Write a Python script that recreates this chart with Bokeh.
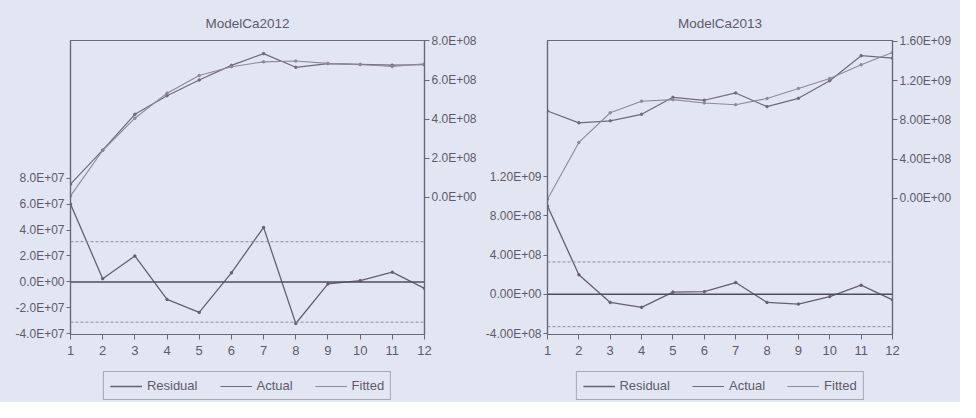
from bokeh.plotting import figure
from bokeh.models import (Range1d, LinearAxis, FixedTicker, CustomJSTickFormatter,
                          Span, Legend, LegendItem)
from bokeh.layouts import row, column
from bokeh.embed import file_html
from bokeh.resources import INLINE

# ---------------- data ----------------
periods = [1, 2, 3, 4, 5, 6, 7, 8, 9, 10, 11, 12]

title_2012 = "ModelCa2012"
resid_2012 = [6.0e7, 0.25e7, 2.0e7, -1.35e7, -2.35e7, 0.7e7, 4.2e7, -3.2e7, -0.15e7, 0.1e7, 0.75e7, -0.5e7]
actual_2012 = [6.8e7, 2.42e8, 4.25e8, 5.20e8, 6.00e8, 6.75e8, 7.35e8, 6.65e8, 6.84e8, 6.80e8, 6.76e8, 6.78e8]
fitted_2012 = [0.8e7, 2.40e8, 4.05e8, 5.33e8, 6.23e8, 6.68e8, 6.93e8, 6.97e8, 6.85e8, 6.79e8, 6.69e8, 6.83e8]
se_2012 = 3.1e7
resid_ticks_2012 = [-4e7, -2e7, 0, 2e7, 4e7, 6e7, 8e7]
af_ticks_2012 = [0, 2e8, 4e8, 6e8, 8e8]

title_2013 = "ModelCa2013"
resid_2013 = [9.0e8, 2.0e8, -0.83e8, -1.33e8, 0.23e8, 0.27e8, 1.2e8, -0.83e8, -1.0e8, -0.23e8, 0.93e8, -0.57e8]
actual_2013 = [8.9e8, 7.7e8, 7.9e8, 8.57e8, 1.03e9, 1.0e9, 1.075e9, 9.35e8, 1.02e9, 1.2e9, 1.455e9, 1.43e9]
fitted_2013 = [-1e7, 5.7e8, 8.73e8, 9.9e8, 1.007e9, 9.73e8, 9.55e8, 1.018e9, 1.12e9, 1.223e9, 1.362e9, 1.487e9]
se_2013 = 3.3e8
resid_ticks_2013 = [-4e8, 0, 4e8, 8e8, 1.2e9]
af_ticks_2013 = [0, 4e8, 8e8, 1.2e9, 1.6e9]

legend_labels = ["Residual", "Actual", "Fitted"]

# ---------------- style ----------------
BG = "#e2e6f2"
TXT = "#5d5b6b"
AX = "#6b6878"
FONT = "Liberation Sans"
C_RES, C_ACT, C_FIT = "#655f73", "#6f6a7e", "#8d889c"
W_RES, W_ACT, W_FIT = 1.3, 1.2, 1.1

FMT = """
let s = tick.toExponential(d);
let parts = s.split('e');
let sign = parts[1][0];
let ex = parts[1].slice(1);
if (ex.length < 2) { ex = '0' + ex; }
return parts[0] + 'E' + sign + ex;
"""


def style_axis(ax, ticks, digits, tick_out=4):
    ax.ticker = FixedTicker(ticks=ticks)
    ax.formatter = CustomJSTickFormatter(code=FMT, args=dict(d=digits))
    ax.major_label_text_font = FONT
    ax.major_label_text_font_size = "12px"
    ax.major_label_text_color = TXT
    ax.axis_line_color = AX
    ax.axis_line_width = 1.2
    ax.major_tick_line_color = AX
    ax.major_tick_in = 0
    ax.major_tick_out = tick_out
    ax.minor_tick_line_color = None
    ax.major_label_standoff = 2


def panel(title, resid, actual, fitted, se, rticks, aticks, digits,
          rrange, arange, width, bl, br):
    p = figure(width=width, height=362, output_backend="svg", toolbar_location=None,
               x_range=Range1d(1, 12), y_range=Range1d(*rrange),
               min_border_left=bl, min_border_right=br, min_border_top=40,
               min_border_bottom=28, background_fill_color=BG, border_fill_color=BG,
               outline_line_color=AX, outline_line_width=1.2, title=title)
    p.extra_y_ranges = {"af": Range1d(*arange)}
    p.grid.visible = False

    p.title.align = "center"
    p.title.text_font = FONT
    p.title.text_font_size = "13.5px"
    p.title.text_font_style = "normal"
    p.title.text_color = TXT
    p.title.standoff = 20

    xa = p.xaxis[0]
    xa.ticker = FixedTicker(ticks=periods)
    xa.major_label_text_font = FONT
    xa.major_label_text_font_size = "13px"
    xa.major_label_text_color = TXT
    xa.axis_line_color = AX
    xa.axis_line_width = 1.2
    xa.major_tick_line_color = AX
    xa.major_tick_in = 0
    xa.major_tick_out = 5
    xa.minor_tick_line_color = None
    xa.major_label_standoff = 6

    style_axis(p.yaxis[0], rticks, digits)
    ra = LinearAxis(y_range_name="af")
    style_axis(ra, aticks, digits, tick_out=5)
    p.add_layout(ra, "right")

    p.add_layout(Span(location=0, dimension="width", line_color="#4f4c5c", line_width=1.5))
    for s in (se, -se):
        p.add_layout(Span(location=s, dimension="width", line_color="#8e8a9c",
                          line_width=1, line_dash="3 2"))

    p.line(periods, resid, line_color=C_RES, line_width=W_RES)
    p.scatter(periods, resid, marker="circle", size=2.5, color=C_RES)
    p.line(periods, actual, line_color=C_ACT, line_width=W_ACT, y_range_name="af")
    p.scatter(periods, actual, marker="circle", size=2.5, color=C_ACT, y_range_name="af")
    p.line(periods, fitted, line_color=C_FIT, line_width=W_FIT, y_range_name="af")
    p.scatter(periods, fitted, marker="circle", size=2.5, color=C_FIT, y_range_name="af")
    return p


def legend_fig(width, bl, br, series):
    # the series are attached to an x range far away, only their legend samples show
    lf = figure(width=width, height=40, output_backend="svg", toolbar_location=None,
                x_range=Range1d(-20, -19), y_range=Range1d(0, 1),
                min_border_left=bl, min_border_right=br, min_border_top=0,
                min_border_bottom=0, background_fill_color=BG, border_fill_color=BG,
                outline_line_color=None)
    lf.axis.visible = False
    lf.grid.visible = False
    items = []
    for lab, col, lw, ser in zip(legend_labels, (C_RES, C_ACT, C_FIT),
                                 (W_RES, W_ACT, W_FIT), series):
        rl = lf.line(periods, ser, line_color=col, line_width=lw)
        items.append(LegendItem(label=lab, renderers=[rl]))
    lg = Legend(items=items, orientation="horizontal", location="bottom_center",
                background_fill_color=BG, background_fill_alpha=1.0,
                border_line_color=AX, border_line_width=1.2,
                label_text_font=FONT, label_text_font_size="13px", label_text_color=TXT,
                glyph_width=32, glyph_height=14, label_height=14, label_standoff=5,
                spacing=22, padding=6, margin=2)
    lf.add_layout(lg)
    return lf


p1 = panel(title_2012, resid_2012, actual_2012, fitted_2012, se_2012,
           resid_ticks_2012, af_ticks_2012, 1, (-4.05e7, 1.86e8), (-7.0e8, 8.02e8),
           482, 70, 58)
p2 = panel(title_2013, resid_2013, actual_2013, fitted_2013, se_2013,
           resid_ticks_2013, af_ticks_2013, 2, (-4.1e8, 2.59e9), (-1.39e9, 1.61e9),
           478, 62, 68)
l1 = legend_fig(482, 70, 58, (resid_2012, actual_2012, fitted_2012))
l2 = legend_fig(478, 62, 68, (resid_2013, actual_2013, fitted_2013))

layout = row(column(p1, l1), column(p2, l2))
layout.styles = {"background-color": BG}
open("out.html", "w").write(file_html(layout, INLINE))
